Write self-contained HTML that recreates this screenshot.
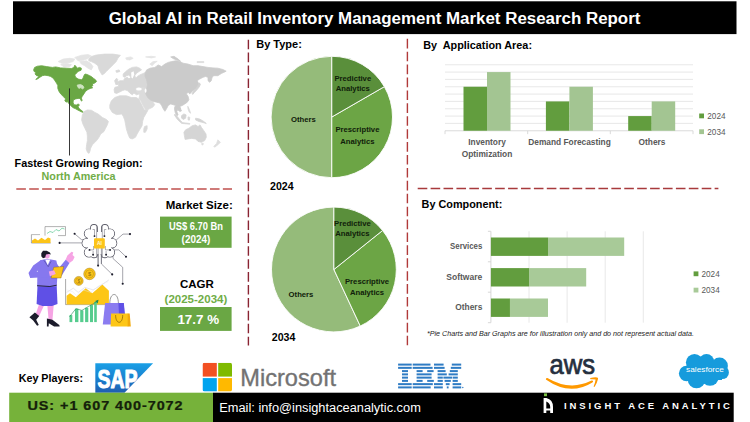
<!DOCTYPE html>
<html>
<head>
<meta charset="utf-8">
<title>Global AI in Retail Inventory Management Market Research Report</title>
<style>
html,body{margin:0;padding:0;background:#fff;}
body{width:750px;height:422px;overflow:hidden;font-family:"Liberation Sans",sans-serif;}
svg{display:block;}
svg text{font-family:"Liberation Sans",sans-serif;}
.b{font-weight:bold;}
.lbl{font-weight:bold;font-size:8.35px;fill:#595959;}
.pl{font-weight:bold;font-size:7.7px;fill:#10200a;}
</style>
</head>
<body>
<svg width="750" height="422" viewBox="0 0 750 422">
<rect x="0" y="0" width="750" height="422" fill="#ffffff"/>

<!-- HEADER -->
<g id="header">
<rect x="13" y="1.3" width="723.5" height="32.8" fill="#000"/>
<text x="108.7" y="23.5" class="b" font-size="16" fill="#fff" textLength="531.7" lengthAdjust="spacingAndGlyphs">Global AI in Retail Inventory Management Market Research Report</text>
</g>

<!-- DASHED DIVIDERS -->
<g id="dividers" fill="none">
<line x1="248.4" y1="39.7" x2="248.4" y2="345.5" stroke="#8a2432" stroke-width="1.4" stroke-dasharray="9.6 3.31"/>
<line x1="407.4" y1="38.8" x2="407.4" y2="345.5" stroke="#b13a3a" stroke-width="1.4" stroke-dasharray="9.6 3.31"/>
<line x1="16.3" y1="189" x2="232" y2="189" stroke="#c0504d" stroke-width="1.5" stroke-dasharray="9.6 3.31"/>
<line x1="417.7" y1="188.5" x2="718.4" y2="188.5" stroke="#a83a3c" stroke-width="1.4" stroke-dasharray="9.6 3.31"/>
</g>

<!-- MAP -->
<g id="map">
<path d="M88.8,59.1 L91.3,56.6 L96.3,55.0 L104.6,54.1 L112.9,54.1 L120.4,55.3 L117.9,58.3 L116.2,61.6 L112.9,64.9 L109.6,68.2 L106.3,71.5 L103.8,74.0 L102.1,74.9 L100.5,72.4 L98.8,69.0 L98.0,65.7 L94.7,63.2 L91.3,61.6 L88.8,60.8 Z" fill="#d9d9d9" stroke="#d9d9d9" stroke-width="0.8" stroke-linejoin="round" />
<path d="M58.2,61.6 L63.1,59.1 L69.8,58.3 L74.8,59.1 L73.1,61.6 L68.1,62.9 L62.3,63.6 Z" fill="#e4e4e4" stroke="#e4e4e4" stroke-width="0.8" stroke-linejoin="round" />
<path d="M74.8,57.4 L81.4,55.3 L88.0,54.6 L91.3,55.9 L88.0,58.6 L83.0,60.3 L78.1,60.8 Z" fill="#e4e4e4" stroke="#e4e4e4" stroke-width="0.8" stroke-linejoin="round" />
<path d="M79.7,61.6 L86.4,60.8 L90.5,63.2 L93.0,66.6 L91.3,69.9 L88.0,68.2 L84.7,65.7 L81.4,64.1 Z" fill="#e4e4e4" stroke="#e4e4e4" stroke-width="0.8" stroke-linejoin="round" />
<path d="M60.7,64.6 L66.5,63.6 L71.4,64.6 L69.8,66.6 L64.0,66.9 Z" fill="#e4e4e4" stroke="#e4e4e4" stroke-width="0.8" stroke-linejoin="round" />
<path d="M33.6,69.9 L34.6,67.4 L37.4,66.2 L41.6,65.7 L46.6,66.6 L52.4,67.4 L55.7,66.9 L60.7,67.9 L66.5,68.2 L71.4,68.5 L73.9,67.4 L74.8,65.2 L76.1,66.6 L77.2,68.2 L79.7,67.4 L81.4,68.2 L81.1,70.2 L78.1,71.5 L76.4,73.2 L74.8,74.9 L75.6,77.3 L78.1,79.0 L81.4,79.8 L83.0,78.2 L83.9,75.7 L85.0,74.0 L87.2,74.5 L89.7,75.7 L91.3,76.5 L93.3,78.2 L95.5,79.8 L96.6,81.5 L94.7,83.1 L92.2,84.0 L93.0,85.6 L91.3,86.5 L92.7,87.8 L90.5,88.4 L88.0,89.4 L85.5,91.4 L83.9,93.9 L82.2,96.4 L81.4,98.1 L82.2,100.6 L81.4,101.1 L80.1,98.4 L78.1,98.4 L75.6,98.9 L73.4,100.1 L73.1,102.2 L73.9,104.7 L76.4,105.0 L78.4,103.9 L79.4,105.0 L78.1,106.7 L78.9,108.3 L80.6,109.7 L82.2,111.0 L83.4,112.2 L82.2,112.2 L79.7,111.0 L77.7,110.0 L75.6,108.8 L73.1,107.7 L70.6,105.5 L68.4,103.0 L67.3,101.4 L66.1,102.2 L64.8,100.6 L65.6,98.9 L63.5,96.7 L60.7,93.9 L59.0,91.4 L57.8,88.4 L57.8,85.6 L56.5,83.1 L54.9,80.7 L53.2,78.2 L50.7,76.5 L48.2,75.7 L44.9,75.2 L42.4,75.7 L39.9,77.3 L37.4,79.0 L35.8,79.5 L37.4,77.8 L39.1,76.2 L36.6,75.7 L35.0,74.0 L35.8,72.4 L34.1,71.5 Z" fill="#6aa744" stroke="#6aa744" stroke-width="0.8" stroke-linejoin="round" />
<path d="M77.2,85.1 L80.6,84.5 L83.0,85.8 L84.0,87.8 L82.2,89.1 L81.1,87.5 L78.9,88.4 L77.7,86.8 Z" fill="#cfe3c2" stroke="#cfe3c2" stroke-width="0.8" stroke-linejoin="round" />
<path d="M82.4,114.9 L84.1,111.6 L87.4,109.9 L91.5,110.3 L94.9,112.4 L98.2,114.1 L102.3,117.4 L106.5,119.5 L108.4,121.5 L107.3,124.9 L105.6,128.2 L104.0,131.5 L100.7,134.0 L99.0,137.3 L97.3,139.8 L94.9,142.3 L92.4,144.8 L90.7,148.1 L89.9,151.4 L89.0,153.4 L87.4,152.2 L86.2,148.9 L86.6,144.8 L87.4,140.6 L87.4,136.5 L86.9,132.3 L84.9,128.2 L82.9,124.0 L81.6,119.9 Z" fill="#d9d9d9" stroke="#d9d9d9" stroke-width="0.8" stroke-linejoin="round" />
<path d="M109.8,105.0 L111.4,100.8 L114.8,97.5 L119.7,95.8 L126.4,95.8 L131.3,97.5 L136.3,97.5 L138.8,99.1 L140.5,102.5 L142.6,106.6 L144.3,109.9 L147.9,110.3 L146.3,113.2 L143.8,117.4 L142.6,121.5 L142.1,125.7 L139.6,129.8 L137.1,134.0 L135.5,137.3 L132.2,138.9 L129.7,138.1 L128.0,134.0 L126.4,129.0 L125.5,124.0 L124.7,119.9 L123.0,115.7 L121.4,114.1 L116.4,114.6 L112.3,112.4 L109.8,108.3 Z" fill="#d9d9d9" stroke="#d9d9d9" stroke-width="0.8" stroke-linejoin="round" />
<path d="M144.6,126.5 L147.1,125.7 L147.1,129.0 L145.4,132.3 L143.8,132.3 L143.8,129.0 Z" fill="#d9d9d9" stroke="#d9d9d9" stroke-width="0.8" stroke-linejoin="round" />
<path d="M114.1,89.8 L114.9,87.3 L118.2,86.5 L119.1,84.0 L117.4,82.3 L119.9,80.7 L123.2,80.7 L124.9,78.2 L127.4,77.3 L129.0,79.0 L130.7,77.3 L129.0,74.9 L126.5,75.7 L124.9,77.3 L123.2,76.5 L123.2,74.0 L125.7,71.5 L129.0,69.0 L132.3,67.4 L136.5,66.9 L139.8,68.2 L141.5,69.9 L139.0,71.5 L136.5,73.2 L134.8,75.7 L135.7,78.2 L137.3,76.5 L139.8,74.9 L143.9,73.2 L146.4,71.5 L148.1,74.0 L148.9,79.8 L148.9,86.5 L148.1,92.3 L147.3,94.8 L144.8,93.1 L141.5,91.4 L139.0,89.8 L137.3,91.4 L139.0,93.9 L136.5,94.8 L134.0,93.1 L132.3,94.8 L129.9,93.1 L127.4,90.6 L124.9,89.8 L122.4,90.6 L119.1,92.3 L116.6,93.4 L114.6,92.8 Z" fill="#d8d8d8" stroke="#d8d8d8" stroke-width="0.8" stroke-linejoin="round" />
<path d="M114.6,80.7 L116.6,78.2 L117.9,79.8 L117.4,82.3 L118.6,84.5 L115.8,84.5 Z" fill="#d8d8d8" stroke="#d8d8d8" stroke-width="0.8" stroke-linejoin="round" />
<path d="M115.8,70.7 L119.1,69.9 L119.9,71.5 L116.6,72.4 Z" fill="#d8d8d8" stroke="#d8d8d8" stroke-width="0.8" stroke-linejoin="round" />
<path d="M135.7,88.1 L141.5,87.3 L147.3,88.4 L148.1,94.8 L149.8,98.9 L153.1,102.2 L154.7,104.7 L152.7,107.2 L149.4,108.8 L146.4,110.5 L144.4,108.0 L142.3,103.9 L140.6,100.6 L139.0,98.4 L139.8,94.8 L136.8,92.3 Z" fill="#dcdcdc" stroke="#dcdcdc" stroke-width="0.8" stroke-linejoin="round" />
<path d="M125.7,57.9 L130.7,56.9 L133.2,58.3 L129.9,59.9 L126.5,59.6 Z" fill="#e4e4e4" stroke="#e4e4e4" stroke-width="0.8" stroke-linejoin="round" />
<path d="M145.6,56.9 L151.4,56.3 L155.6,56.9 L151.4,57.9 Z" fill="#e4e4e4" stroke="#e4e4e4" stroke-width="0.8" stroke-linejoin="round" />
<path d="M149.8,64.1 L153.1,61.6 L157.2,61.3 L154.7,62.9 L152.2,65.7 Z" fill="#e4e4e4" stroke="#e4e4e4" stroke-width="0.8" stroke-linejoin="round" />
<path d="M145.0,74.0 L146.6,69.9 L150.0,68.2 L154.9,67.4 L158.2,64.9 L161.6,66.6 L164.9,64.1 L168.2,62.4 L171.5,61.6 L175.7,60.8 L179.8,61.6 L183.1,63.2 L188.1,64.1 L193.1,65.7 L198.0,65.7 L203.0,66.6 L208.0,67.4 L213.0,67.9 L217.9,68.2 L222.9,69.5 L226.2,71.2 L223.7,72.4 L221.3,73.5 L217.9,75.7 L213.8,75.7 L212.1,77.3 L211.3,80.7 L209.7,82.3 L208.0,80.7 L208.0,77.3 L205.5,76.5 L203.0,77.3 L199.7,79.0 L197.2,80.7 L198.9,84.0 L198.0,87.3 L195.6,88.9 L193.1,90.6 L191.4,92.3 L189.8,93.9 L188.1,92.3 L186.4,93.9 L188.1,96.4 L188.9,99.7 L187.3,102.2 L184.8,103.9 L182.3,105.5 L179.8,106.4 L180.6,108.8 L179.0,110.5 L177.3,108.0 L175.7,105.5 L173.2,104.7 L170.7,103.9 L168.2,105.5 L166.5,108.8 L164.9,111.3 L163.2,108.8 L161.6,105.5 L159.9,103.0 L156.6,102.2 L153.3,101.4 L150.0,99.7 L147.5,97.2 L145.8,93.9 L146.6,88.9 L147.5,84.8 L146.6,79.8 L145.0,76.5 Z" fill="#cbcbcb" stroke="#cbcbcb" stroke-width="0.8" stroke-linejoin="round" />
<path d="M170.7,56.9 L174.0,56.3 L178.1,59.1 L180.6,61.3 L177.3,60.3 L173.2,58.6 Z" fill="#cbcbcb" stroke="#cbcbcb" stroke-width="0.8" stroke-linejoin="round" />
<path d="M197.2,61.6 L203.8,61.6 L203.8,62.6 L197.2,62.6 Z" fill="#dcdcdc" stroke="#dcdcdc" stroke-width="0.8" stroke-linejoin="round" />
<path d="M199.4,82.8 L200.4,84.5 L199.0,87.3 L196.7,90.1 L194.1,92.8 L192.7,94.4 L192.1,93.4 L193.7,91.1 L196.1,88.4 L198.0,85.5 Z" fill="#d2d2d2" stroke="#d2d2d2" stroke-width="0.8" stroke-linejoin="round" />
<path d="M174.8,106.6 L177.3,105.0 L179.8,107.4 L181.5,110.8 L179.8,111.6 L177.8,109.6 L176.8,111.6 L178.1,114.9 L176.8,115.7 L175.2,112.4 L174.5,109.1 Z" fill="#cbcbcb" stroke="#cbcbcb" stroke-width="0.8" stroke-linejoin="round" />
<path d="M174.8,114.1 L177.3,116.6 L180.6,120.7 L182.3,122.4 L180.6,122.5 L177.3,119.2 L174.5,115.2 Z" fill="#d4d4d4" stroke="#d4d4d4" stroke-width="0.8" stroke-linejoin="round" />
<path d="M181.5,115.7 L183.9,113.9 L186.1,114.9 L185.6,118.2 L183.1,119.5 L181.5,117.9 Z" fill="#d4d4d4" stroke="#d4d4d4" stroke-width="0.8" stroke-linejoin="round" />
<path d="M181.5,122.5 L189.8,123.5 L189.8,124.2 L181.5,123.4 Z" fill="#d8d8d8" stroke="#d8d8d8" stroke-width="0.8" stroke-linejoin="round" />
<path d="M188.1,116.9 L189.8,117.4 L189.4,120.2 L188.1,119.9 Z" fill="#d8d8d8" stroke="#d8d8d8" stroke-width="0.8" stroke-linejoin="round" />
<path d="M195.6,118.2 L199.7,119.0 L203.8,121.5 L206.3,123.5 L203.0,122.5 L198.9,121.5 L195.6,119.9 Z" fill="#d4d4d4" stroke="#d4d4d4" stroke-width="0.8" stroke-linejoin="round" />
<path d="M187.8,106.3 L189.4,109.6 L190.6,113.2 L189.1,111.9 L188.1,109.1 Z" fill="#d8d8d8" stroke="#d8d8d8" stroke-width="0.8" stroke-linejoin="round" />
<path d="M183.9,132.3 L185.6,129.8 L188.9,128.2 L192.2,125.7 L195.6,124.9 L198.0,126.5 L200.0,124.9 L201.4,127.3 L203.8,130.7 L206.0,134.0 L206.3,137.3 L204.7,140.6 L201.4,142.3 L198.0,141.4 L195.6,138.9 L191.4,138.4 L188.1,138.9 L185.1,139.4 L184.4,135.6 Z" fill="#d5d5d5" stroke="#d5d5d5" stroke-width="0.8" stroke-linejoin="round" />
<path d="M201.7,143.4 L203.3,143.4 L203.0,144.9 L201.9,144.8 Z" fill="#dcdcdc" stroke="#dcdcdc" stroke-width="0.8" stroke-linejoin="round" />
<path d="M217.9,139.8 L220.4,142.3 L217.9,144.8 L214.6,147.2 L213.8,146.4 L216.6,143.4 Z" fill="#dedede" stroke="#dedede" stroke-width="0.8" stroke-linejoin="round" />
<ellipse cx="138.9" cy="88.9" rx="2.9" ry="1.5" fill="#fff"/>
<ellipse cx="145.6" cy="90.6" rx="0.9" ry="2.2" fill="#fff"/>
<path d="M131.2,72.5 L133.6,71.2 L134.2,74.6 L132.6,78.6 L131.4,77.4 Z" fill="#fff"/>
<line x1="69.5" y1="88.4" x2="69.5" y2="155.5" stroke="#222" stroke-width="0.9"/>
</g>

<!-- LEFT TEXT -->
<g id="lefttext">
<text x="14.6" y="166.9" class="b" font-size="10.8" fill="#000" textLength="128" lengthAdjust="spacingAndGlyphs">Fastest Growing Region:</text>
<text x="41.5" y="179.9" class="b" font-size="10.8" fill="#70ad47" textLength="74" lengthAdjust="spacingAndGlyphs">North America</text>
<text x="165.8" y="208.9" class="b" font-size="11.2" fill="#000" textLength="67" lengthAdjust="spacingAndGlyphs">Market Size:</text>
<rect x="160" y="216.6" width="71.6" height="31.2" fill="#6aa744"/>
<text x="169" y="229.9" class="b" font-size="10.6" fill="#fff" textLength="54" lengthAdjust="spacingAndGlyphs">US$ 6.70 Bn</text>
<text x="181.6" y="243.4" class="b" font-size="10.6" fill="#fff" textLength="28.6" lengthAdjust="spacingAndGlyphs">(2024)</text>
<text x="179.9" y="287.9" class="b" font-size="11.5" fill="#000">CAGR</text>
<text x="164.6" y="303.2" class="b" font-size="11.5" fill="#70ad47">(2025-2034)</text>
<rect x="160" y="307" width="71.6" height="23.9" fill="#6aa744"/>
<text x="177.4" y="323.9" class="b" font-size="13.4" fill="#fff">17.7 %</text>
</g>

<!-- ILLUSTRATION -->
<g id="illus">
<path d="M31.4,234.6 L31.4,243 L50.7,243" fill="none" stroke="#555" stroke-width="0.5"/>
<path d="M31.4,234.6 L40,234.6" fill="none" stroke="#777" stroke-width="0.5"/>
<path d="M32,243 L32,240.4 L35,238.6 L38,240.4 L41.5,237.8 L45,240 L48,237.4 L50.5,238.6 L50.5,243 Z" fill="#fcc419"/>
<path d="M45,235.6 L45,226.6 L65.5,226.6 L65.5,235.6 L58,235.6" fill="none" stroke="#666" stroke-width="0.5"/>
<path d="M47,233.5 L50,231.5 L53,232.5 L56,229.5 L59,231 L62,228.2 L64.5,229" fill="none" stroke="#3fbf7f" stroke-width="0.6"/>
<path d="M74.6,233.8 L81.5,239.6 L86.5,239.6" fill="none" stroke="#5a5a66" stroke-width="0.55"/>
<path d="M59.6,242.9 L82.4,242.9" fill="none" stroke="#5a5a66" stroke-width="0.55"/>
<path d="M130,234.1 L123,234.1 L115.5,240.7 L111,240.7" fill="none" stroke="#5a5a66" stroke-width="0.55"/>
<path d="M126,256.8 L118.8,249.9 L110.1,249.9" fill="none" stroke="#5a5a66" stroke-width="0.55"/>
<path d="M122.7,283.8 L122.7,267.3 L113,258.5 L113,256" fill="none" stroke="#5a5a66" stroke-width="0.55"/>
<path d="M112.2,274.4 L101.4,263.9 L101.4,248" fill="none" stroke="#5a5a66" stroke-width="0.55"/>
<path d="M98.1,265.6 L98.1,248" fill="none" stroke="#5a5a66" stroke-width="0.55"/>
<circle cx="74.6" cy="233.8" r="1.05" fill="#1c1c2b"/>
<circle cx="59.6" cy="242.9" r="1.05" fill="#1c1c2b"/>
<circle cx="130" cy="234.1" r="1.05" fill="#1c1c2b"/>
<circle cx="126" cy="256.8" r="1.05" fill="#1c1c2b"/>
<circle cx="122.7" cy="283.8" r="1.05" fill="#1c1c2b"/>
<circle cx="112.2" cy="274.4" r="1.05" fill="#1c1c2b"/>
<circle cx="98.1" cy="265.6" r="1.05" fill="#1c1c2b"/>
<g stroke="#5a5a66" stroke-width="1.1" fill="#fff"><circle cx="89.00" cy="233.6" r="4.64"/><circle cx="86.80" cy="243.2" r="4.64"/><circle cx="89.00" cy="252.3" r="4.64"/><circle cx="94.00" cy="254" r="3.65"/><circle cx="109.88" cy="233.6" r="4.64"/><circle cx="112.08" cy="243.2" r="4.64"/><circle cx="109.88" cy="252.3" r="4.64"/><circle cx="104.88" cy="254" r="3.65"/><rect x="90.65" y="224.6" width="6.65" height="16" rx="3.3"/><rect x="101.58" y="224.6" width="6.65" height="16" rx="3.3"/></g><g fill="#fff"><circle cx="89.00" cy="233.6" r="4.36"/><circle cx="86.80" cy="243.2" r="4.36"/><circle cx="89.00" cy="252.3" r="4.36"/><circle cx="94.00" cy="254" r="3.37"/><circle cx="109.88" cy="233.6" r="4.36"/><circle cx="112.08" cy="243.2" r="4.36"/><circle cx="109.88" cy="252.3" r="4.36"/><circle cx="104.88" cy="254" r="3.37"/><rect x="90.93" y="224.88" width="6.09" height="15.6" rx="3.05"/><rect x="101.86" y="224.88" width="6.09" height="15.6" rx="3.05"/><rect x="88" y="232" width="23" height="22"/></g>
<path d="M94.5,236.1 L94.5,229.5 L92.6,229.5" fill="none" stroke="#5a5a66" stroke-width="0.5"/>
<path d="M104.4,236.1 L104.4,229.5 L106.3,229.5" fill="none" stroke="#5a5a66" stroke-width="0.5"/>
<path d="M89.5,249.9 L93.6,249.9 L93.6,246" fill="none" stroke="#5a5a66" stroke-width="0.5"/>
<path d="M110.1,249.9 L105.4,249.9 L105.4,246" fill="none" stroke="#5a5a66" stroke-width="0.5"/>
<path d="M93.1,254.8 L93.1,251" fill="none" stroke="#5a5a66" stroke-width="0.5"/>
<path d="M106.1,254.8 L106.1,251" fill="none" stroke="#5a5a66" stroke-width="0.5"/>
<path d="M96.6,226 L96.6,258" fill="none" stroke="#5a5a66" stroke-width="0.5"/>
<path d="M102.3,226 L102.3,258" fill="none" stroke="#5a5a66" stroke-width="0.5"/>
<circle cx="94.5" cy="236.1" r="0.95" fill="#1c1c2b"/>
<circle cx="104.4" cy="236.1" r="0.95" fill="#1c1c2b"/>
<circle cx="89.5" cy="249.9" r="0.95" fill="#1c1c2b"/>
<circle cx="110.1" cy="249.9" r="0.95" fill="#1c1c2b"/>
<circle cx="93.1" cy="254.8" r="0.95" fill="#1c1c2b"/>
<circle cx="106.1" cy="254.8" r="0.95" fill="#1c1c2b"/>
<path d="M101.4,263.9 L101.4,248" fill="none" stroke="#5a5a66" stroke-width="0.55"/>
<path d="M98.1,265.6 L98.1,248" fill="none" stroke="#5a5a66" stroke-width="0.55"/>
<rect x="94" y="238.2" width="10.8" height="10.4" rx="1.2" fill="#fcc419"/>
<text x="99.4" y="245.3" font-size="5" fill="#fff8d8" text-anchor="middle" font-weight="bold">AI</text>
<path d="M38.8,305.1 L35.4,315.1 L38.8,316.8 L43.9,305.7 Z" fill="#f6a4e4" />
<path d="M47.3,305.1 L48.6,319.4 L52.4,321.1 L53.7,305.1 Z" fill="#f6a4e4" />
<path d="M34.9,312.5 L29.4,317.2 L33.2,320.6 L37.1,325.8 L38.8,324.9 L36.2,319.8 L39.2,315.9 Z" fill="#1c1c2b" />
<path d="M46.9,318.5 L46.9,326.4 L48.6,326.4 L48.8,323.2 L54.1,326.4 L59.7,326.4 L59.3,324.9 L52.4,319.8 Z" fill="#1c1c2b" />
<path d="M37.5,285.9 L56.7,285.9 L57.5,304.0 L52.0,306.1 L42.4,306.1 L36.6,304.0 Z" fill="#5f50e6" />
<path d="M40.3,260.3 L47.3,258.8 L56.3,260.5 L58.0,267.7 L56.7,286.5 L37.1,286.5 L37.5,272.0 Z" fill="#8678ee" />
<path d="M40.9,260.1 L33.2,265.6 L28.5,273.1 L30.2,278.0 L52.0,276.7 L52.0,272.0 L36.6,272.0 L41.3,266.7 Z" fill="#8678ee" />
<path d="M54.1,260.3 L59.5,267.3 L65.9,259.6 L69.5,263.0 L61.6,275.8 L56.3,275.2 Z" fill="#8678ee" />
<path d="M65.7,259.6 L67.4,255.4 L71.6,251.7 L73.3,252.4 L72.5,254.9 L74.6,257.1 L72.9,260.5 L69.5,263.0 Z" fill="#f6a4e4" />
<path d="M37.1,285.7 L49.9,286.5 L56.7,285.2" stroke="#1c1c2b" stroke-width="0.9" fill="none"/>
<path d="M45.2,259.6 L47.7,265.2 L50.3,259.6 Z" fill="#fff" />
<path d="M43.9,260.3 L48.2,266.7 L51.1,261.3" stroke="#2a2a6a" stroke-width="0.4" fill="none"/>
<path d="M53.7,267.3 L63.7,266.5 L61.0,278.0 L51.1,278.0 Z" fill="#fcc419" stroke="#7a5a00" stroke-width="0.35"/>
<path d="M48.8,271.6 L54.1,270.3 L55.8,274.1 L49.9,276.3 Z" fill="#f6a4e4" />
<circle cx="47.1" cy="255.8" r="2.6" fill="#f6a4e4"/>
<path d="M41.3,253.2 L43.0,250.7 L46.7,250.7 L49.9,252.4 L50.9,254.5 L48.8,254.1 L46.0,254.5 L45.2,257.5 L43.0,258.3 L41.3,256.2 Z" fill="#1c1c2b" />
<circle cx="78.7" cy="280.9" r="4.5" fill="#fcc419" stroke="#8a6a10" stroke-width="0.4"/>
<circle cx="78.7" cy="280.9" r="3" fill="none" stroke="#a07c14" stroke-width="0.4"/>
<text x="78.7" y="282.6" font-size="4.6" fill="#a07c14" text-anchor="middle" font-weight="bold">$</text>
<circle cx="89.5" cy="273.9" r="5.8" fill="#fcc419" stroke="#8a6a10" stroke-width="0.4"/>
<circle cx="89.5" cy="273.9" r="4" fill="none" stroke="#a07c14" stroke-width="0.4"/>
<text x="89.5" y="276" font-size="5.8" fill="#a07c14" text-anchor="middle" font-weight="bold">$</text>
<path d="M65.6,279 L65.6,304.6 L108.8,304.6" fill="none" stroke="#555" stroke-width="0.5"/>
<path d="M66.6,304.5 L66.6,295.7 L70.0,293.2 L75.8,297.3 L85.7,288.2 L92.3,293.2 L102.3,284.6 L108.9,290.7 L108.9,304.5 Z" fill="#fdc616"/>
<path d="M66.6,292.4 L73.3,288.2 L78.2,292.4 L84.9,287.4 L93.2,289.9 L101.5,284.9 L108.9,279.9" fill="none" stroke="#c9c9d6" stroke-width="0.45"/>
<path d="M66.6,289.9 L72.4,291.5 L76.6,295.7 L83.2,289.9 L90.7,292.4 L99.0,285.7 L108.1,281.6" fill="none" stroke="#e6e6ee" stroke-width="0.45"/>
<rect x="69.5" y="315.1" width="2.8" height="7.0" fill="#56cc8e"/>
<rect x="75" y="308.7" width="3.4" height="13.4" fill="#56cc8e"/>
<rect x="80.2" y="310.4" width="3.2" height="11.7" fill="#56cc8e"/>
<rect x="85.1" y="307.8" width="3.2" height="14.3" fill="#56cc8e"/>
<rect x="90" y="305.1" width="3.0" height="17.0" fill="#56cc8e"/>
<rect x="94.2" y="301.9" width="2.6" height="20.2" fill="#56cc8e"/>
<path d="M69.5,316.8 L75.9,308.7 L81.9,310.4 L88.3,306.6 L93.6,303.6 L97.9,300.6" fill="none" stroke="#1f8a55" stroke-width="0.6"/>
<path d="M95.1,301.0 L98.5,299.7 L97.7,303.4 Z" fill="#1f8a55"/>
<path d="M109.8,303.5 C109.8,291.5 118.4,291.5 118.4,303.5" fill="none" stroke="#555" stroke-width="0.6"/>
<path d="M105.1,303.1 L123.8,303.1 L125.0,324.4 L102.8,324.4 Z" fill="#8b7cf0"/>
<path d="M118.4,303.1 L123.8,303.1 L125.0,314.8 L119.0,314.8 Z" fill="#5f50e6"/>
<path d="M111.1,313.4 L128.3,313.4 L128.3,326.4 L110.6,326.4 Z" fill="#fdc616"/>
<path d="M127.7,313.4 L129.7,313.4 L130.8,326.4 L127.7,326.4 Z" fill="#f2aa0a"/>
<path d="M115.6,315.1 C115.6,324.7 122.7,324.7 122.7,315.1" fill="none" stroke="#6a4a00" stroke-width="0.6"/>
</g>

<!-- PIES -->
<g id="pies">
<path d="M331.8,117.0 L331.80,177.70 A60.7,60.7 0 0 1 331.80,56.30 Z" fill="#95bb7a" stroke="#fff" stroke-width="0.9" stroke-linejoin="round"/>
<path d="M331.8,117.0 L384.37,86.65 A60.7,60.7 0 0 1 331.80,177.70 Z" fill="#6ca545" stroke="#fff" stroke-width="0.9" stroke-linejoin="round"/>
<path d="M331.8,117.0 L331.80,56.30 A60.7,60.7 0 0 1 384.37,86.65 Z" fill="#5a8f3b" stroke="#fff" stroke-width="0.9" stroke-linejoin="round"/>
<text class="pl" x="352.8" y="80.8" text-anchor="middle">Predictive</text>
<text class="pl" x="352.8" y="91.4" text-anchor="middle">Analytics</text>
<text class="pl" x="303.4" y="122.4" text-anchor="middle">Others</text>
<text class="pl" x="357.4" y="132.4" text-anchor="middle">Prescriptive</text>
<text class="pl" x="357.4" y="144" text-anchor="middle">Analytics</text>
<path d="M333.9,269.5 L360.27,326.05 A62.4,62.4 0 1 1 333.90,207.10 Z" fill="#95bb7a" stroke="#fff" stroke-width="0.9" stroke-linejoin="round"/>
<path d="M333.9,269.5 L382.60,230.48 A62.4,62.4 0 0 1 360.27,326.05 Z" fill="#6ca545" stroke="#fff" stroke-width="0.9" stroke-linejoin="round"/>
<path d="M333.9,269.5 L333.90,207.10 A62.4,62.4 0 0 1 382.60,230.48 Z" fill="#5a8f3b" stroke="#fff" stroke-width="0.9" stroke-linejoin="round"/>
<text class="pl" x="352.4" y="225.7" text-anchor="middle">Predictive</text>
<text class="pl" x="352.4" y="236.2" text-anchor="middle">Analytics</text>
<text class="pl" x="301" y="297.2" text-anchor="middle">Others</text>
<text class="pl" x="367" y="284" text-anchor="middle">Prescriptive</text>
<text class="pl" x="367" y="295" text-anchor="middle">Analytics</text>
<text x="256.2" y="48.4" class="b" font-size="11" fill="#000">By Type:</text>
<text x="270" y="189.5" class="b" font-size="10.6" fill="#000">2024</text>
<text x="271.8" y="341.3" class="b" font-size="10.6" fill="#000">2034</text>
</g>

<!-- BAR CHART -->
<g id="bars">
<text x="423.3" y="49.3" class="b" font-size="11" fill="#000" xml:space="preserve" textLength="108.7" lengthAdjust="spacingAndGlyphs">By  Application Area:</text>
<g transform="translate(0,0.55)">
<line x1="445" y1="64.20" x2="693" y2="64.20" stroke="#e2e2e2" stroke-width="0.8"/>
<line x1="445" y1="71.53" x2="693" y2="71.53" stroke="#e2e2e2" stroke-width="0.8"/>
<line x1="445" y1="78.87" x2="693" y2="78.87" stroke="#e2e2e2" stroke-width="0.8"/>
<line x1="445" y1="86.20" x2="693" y2="86.20" stroke="#e2e2e2" stroke-width="0.8"/>
<line x1="445" y1="93.53" x2="693" y2="93.53" stroke="#e2e2e2" stroke-width="0.8"/>
<line x1="445" y1="100.87" x2="693" y2="100.87" stroke="#e2e2e2" stroke-width="0.8"/>
<line x1="445" y1="108.20" x2="693" y2="108.20" stroke="#e2e2e2" stroke-width="0.8"/>
<line x1="445" y1="115.53" x2="693" y2="115.53" stroke="#e2e2e2" stroke-width="0.8"/>
<line x1="445" y1="122.87" x2="693" y2="122.87" stroke="#e2e2e2" stroke-width="0.8"/>
<line x1="445" y1="130.2" x2="693" y2="130.2" stroke="#d6d6d6" stroke-width="0.9"/>
<line x1="445" y1="130.2" x2="445" y2="133.6" stroke="#d6d6d6" stroke-width="0.9"/>
<line x1="527.7" y1="130.2" x2="527.7" y2="133.6" stroke="#d6d6d6" stroke-width="0.9"/>
<line x1="610.3" y1="130.2" x2="610.3" y2="133.6" stroke="#d6d6d6" stroke-width="0.9"/>
<line x1="693" y1="130.2" x2="693" y2="133.6" stroke="#d6d6d6" stroke-width="0.9"/>
<rect x="463.5" y="86.20" width="23.5" height="44.00" fill="#629d3e"/>
<rect x="487.0" y="71.53" width="23.5" height="58.67" fill="#a3c592"/>
<rect x="545.9" y="100.87" width="23.5" height="29.33" fill="#629d3e"/>
<rect x="569.4" y="86.20" width="23.5" height="44.00" fill="#a3c592"/>
<rect x="628.2" y="115.53" width="23.5" height="14.67" fill="#629d3e"/>
<rect x="651.7" y="100.87" width="23.5" height="29.33" fill="#a3c592"/>
</g>
<text class="lbl" x="487" y="145" text-anchor="middle">Inventory</text>
<text class="lbl" x="487" y="156.8" text-anchor="middle">Optimization</text>
<text class="lbl" x="569.5" y="145" text-anchor="middle">Demand Forecasting</text>
<text class="lbl" x="652" y="145" text-anchor="middle">Others</text>
<rect x="699.2" y="113.5" width="4.8" height="4.8" fill="#629d3e"/>
<text x="707.3" y="119" font-size="8.2" fill="#595959">2024</text>
<rect x="699.2" y="129.3" width="4.8" height="4.8" fill="#a3c592"/>
<text x="707.3" y="134.8" font-size="8.2" fill="#595959">2034</text>
</g>

<!-- HBAR CHART -->
<g id="hbars">
<text x="421.6" y="208.3" class="b" font-size="11" fill="#000" textLength="80.7" lengthAdjust="spacingAndGlyphs">By Component:</text>
<line x1="529.0" y1="231.3" x2="529.0" y2="322.7" stroke="#e2e2e2" stroke-width="0.8"/>
<line x1="567.1" y1="231.3" x2="567.1" y2="322.7" stroke="#e2e2e2" stroke-width="0.8"/>
<line x1="605.2" y1="231.3" x2="605.2" y2="322.7" stroke="#e2e2e2" stroke-width="0.8"/>
<line x1="643.3" y1="231.3" x2="643.3" y2="322.7" stroke="#e2e2e2" stroke-width="0.8"/>
<line x1="490.9" y1="231.3" x2="490.9" y2="322.7" stroke="#d4d4d4" stroke-width="0.9"/>
<line x1="487.9" y1="231.3" x2="490.9" y2="231.3" stroke="#d4d4d4" stroke-width="0.9"/>
<line x1="487.9" y1="261.8" x2="490.9" y2="261.8" stroke="#d4d4d4" stroke-width="0.9"/>
<line x1="487.9" y1="292.2" x2="490.9" y2="292.2" stroke="#d4d4d4" stroke-width="0.9"/>
<line x1="487.9" y1="322.7" x2="490.9" y2="322.7" stroke="#d4d4d4" stroke-width="0.9"/>
<rect x="490.9" y="237.5" width="57.2" height="18.4" fill="#629d3e"/>
<rect x="548.0" y="237.5" width="76.2" height="18.4" fill="#a8ca98"/>
<text class="lbl" x="450.1" y="248.8" style="font-size:9px" textLength="32.2" lengthAdjust="spacingAndGlyphs">Services</text>
<rect x="490.9" y="268.1" width="38.1" height="18.4" fill="#629d3e"/>
<rect x="529.0" y="268.1" width="57.2" height="18.4" fill="#a8ca98"/>
<text class="lbl" x="446.3" y="279.6" style="font-size:9px" textLength="36" lengthAdjust="spacingAndGlyphs">Software</text>
<rect x="490.9" y="298.5" width="19.1" height="18.4" fill="#629d3e"/>
<rect x="509.9" y="298.5" width="38.1" height="18.4" fill="#a8ca98"/>
<text class="lbl" x="455.3" y="310.2" style="font-size:9px" textLength="27" lengthAdjust="spacingAndGlyphs">Others</text>
<rect x="693.6" y="271.4" width="4.8" height="4.8" fill="#629d3e"/>
<text x="701.5" y="277" font-size="8.2" fill="#595959">2024</text>
<rect x="693.6" y="287.7" width="4.8" height="4.8" fill="#a8ca98"/>
<text x="701.5" y="293.3" font-size="8.2" fill="#595959">2034</text>
<text x="427" y="335.6" font-size="6.3" font-style="italic" fill="#222" textLength="267" lengthAdjust="spacingAndGlyphs">*Pie Charts and Bar Graphs are for illustration only and do not represent actual data.</text>
</g>

<!-- LOGOS -->
<g id="logos">
<text x="18.7" y="382.3" class="b" font-size="10.8" fill="#000" textLength="64.3" lengthAdjust="spacingAndGlyphs">Key Players:</text>
<defs><linearGradient id="sapg" x1="0" y1="0" x2="0" y2="1"><stop offset="0" stop-color="#1aa0e6"/><stop offset="0.5" stop-color="#1a82d0"/><stop offset="1" stop-color="#1f5db0"/></linearGradient></defs>
<path d="M95.3,363.2 L153.1,363.2 L124.5,392.7 L95.3,392.7 Z" fill="url(#sapg)"/>
<text x="97.6" y="387.9" class="b" font-size="25.6" fill="#fff" stroke="#fff" stroke-width="1.1" stroke-linejoin="round" textLength="40" lengthAdjust="spacingAndGlyphs">SAP</text>
<clipPath id="msc"><rect x="202.5" y="362.8" width="29.5" height="28.8" rx="2"/></clipPath>
<g clip-path="url(#msc)">
<rect x="202.5" y="362.8" width="14.3" height="13.8" fill="#f25022"/>
<rect x="218.2" y="362.8" width="13.8" height="13.8" fill="#7fba00"/>
<rect x="202.5" y="378.1" width="14.3" height="13.5" fill="#00a4ef"/>
<rect x="218.2" y="378.1" width="13.8" height="13.5" fill="#ffb900"/>
</g>
<text x="240.3" y="386" font-size="24" fill="#737373" stroke="#737373" stroke-width="0.35" textLength="95.7" lengthAdjust="spacingAndGlyphs">Microsoft</text>
<g fill="#2f7cc4"><rect x="398.1" y="363.60" width="13.6" height="2.0"/><rect x="412.7" y="363.60" width="17.8" height="2.0"/><rect x="434" y="363.60" width="9.6" height="2.0"/><rect x="451.8" y="363.60" width="9.4" height="2.0"/><rect x="398.1" y="366.86" width="13.6" height="2.0"/><rect x="412.7" y="366.86" width="19.9" height="2.0"/><rect x="434" y="366.86" width="10.6" height="2.0"/><rect x="450.8" y="366.86" width="10.4" height="2.0"/><rect x="402" y="370.11" width="6.0" height="2.0"/><rect x="416.6" y="370.11" width="6.0" height="2.0"/><rect x="427.2" y="370.11" width="6.4" height="2.0"/><rect x="437.6" y="370.11" width="8.0" height="2.0"/><rect x="449.8" y="370.11" width="8.0" height="2.0"/><rect x="402" y="373.37" width="6.0" height="2.0"/><rect x="416.6" y="373.37" width="15.0" height="2.0"/><rect x="437.6" y="373.37" width="9.2" height="2.0"/><rect x="448.6" y="373.37" width="9.2" height="2.0"/><rect x="402" y="376.63" width="6.0" height="2.0"/><rect x="416.6" y="376.63" width="15.0" height="2.0"/><rect x="437.6" y="376.63" width="5.2" height="2.0"/><rect x="443.4" y="376.63" width="8.6" height="2.0"/><rect x="452.6" y="376.63" width="5.2" height="2.0"/><rect x="402" y="379.89" width="6.0" height="2.0"/><rect x="416.6" y="379.89" width="6.0" height="2.0"/><rect x="427.2" y="379.89" width="6.6" height="2.0"/><rect x="437.6" y="379.89" width="5.2" height="2.0"/><rect x="444.6" y="379.89" width="6.2" height="2.0"/><rect x="452.6" y="379.89" width="5.2" height="2.0"/><rect x="398.1" y="383.14" width="13.6" height="2.0"/><rect x="412.7" y="383.14" width="20.1" height="2.0"/><rect x="434" y="383.14" width="8.8" height="2.0"/><rect x="445.8" y="383.14" width="3.8" height="2.0"/><rect x="452.6" y="383.14" width="8.6" height="2.0"/><rect x="398.1" y="386.40" width="13.6" height="2.0"/><rect x="412.7" y="386.40" width="18.0" height="2.0"/><rect x="434" y="386.40" width="8.8" height="2.0"/><rect x="446.8" y="386.40" width="1.8" height="2.0"/><rect x="452.6" y="386.40" width="8.6" height="2.0"/></g>
<circle cx="462.8" cy="387.5" r="0.7" fill="#2f7cc4"/>
<text x="549.6" y="374.1" font-size="27" fill="#252f3e" stroke="#252f3e" stroke-width="0.7" textLength="45.6" lengthAdjust="spacingAndGlyphs">aws</text>
<path d="M547.4,378 Q570,391.4 591.6,380.6 Q592.6,380.2 593,381 Q593.4,381.8 592.4,382.4 Q570,396.4 546.2,379.8 Q545.6,379.2 546,378.5 Q546.6,377.7 547.4,378 Z" fill="#f90"/>
<path d="M590.4,378 Q594,377 597.2,377.4 Q598.4,377.6 598,379 Q597.2,382.6 594.8,386.6 Q594.2,387.4 593.6,386.6 Q595.2,382.8 595.6,379.6 Q593,379 590.6,379.2 Q589.6,378.6 590.4,378 Z" fill="#f90"/>
<g fill="#169bdc"><circle cx="694.5" cy="362.5" r="8.6"/><circle cx="706.5" cy="361.5" r="7.6"/><circle cx="719.5" cy="366" r="8.4"/><circle cx="722.3" cy="372.5" r="6.6"/><circle cx="696.5" cy="379.5" r="8.8"/><circle cx="686.6" cy="373.5" r="7.7"/><circle cx="710" cy="377" r="8.8"/><rect x="688" y="362" width="34" height="18"/></g>
<text x="686.1" y="371.7" font-size="7.6" fill="#fff" textLength="37.7" lengthAdjust="spacingAndGlyphs">salesforce</text>
</g>

<!-- FOOTER -->
<g id="footer">
<rect x="9.2" y="392.7" width="204" height="29.5" fill="#76b23a"/>
<rect x="213" y="392.7" width="520.7" height="29.5" fill="#000"/>
<text transform="translate(27.5,409.6) scale(1.18,1)" class="b" font-size="12.2" fill="#14200a" stroke="#14200a" stroke-width="0.25" textLength="131.4" lengthAdjust="spacing">US: +1 607 400-7072</text>
<text x="219.3" y="411.7" font-size="12" fill="#fff" textLength="201.5" lengthAdjust="spacingAndGlyphs">Email: info@insightaceanalytic.com</text>
<rect x="544" y="393.4" width="3" height="2.8" fill="#7ac143"/>
<path d="M543.6,413.1 L543.6,398 L546.4,398 Q553,399.6 553,407 L553,413.1 L550.2,413.1 L550.2,410.5 L546.3,410.5 L546.3,413.1 Z M546.3,408.6 L550.2,408.6 L550.2,407 Q550.2,403.4 546.3,401.6 Z" fill="#fff" fill-rule="evenodd"/>
<text x="563.9" y="409" class="b" font-size="9.5" fill="#fff" textLength="166" lengthAdjust="spacing" xml:space="preserve">INSIGHT ACE ANALYTIC</text>
</g>
</svg>
</body>
</html>
